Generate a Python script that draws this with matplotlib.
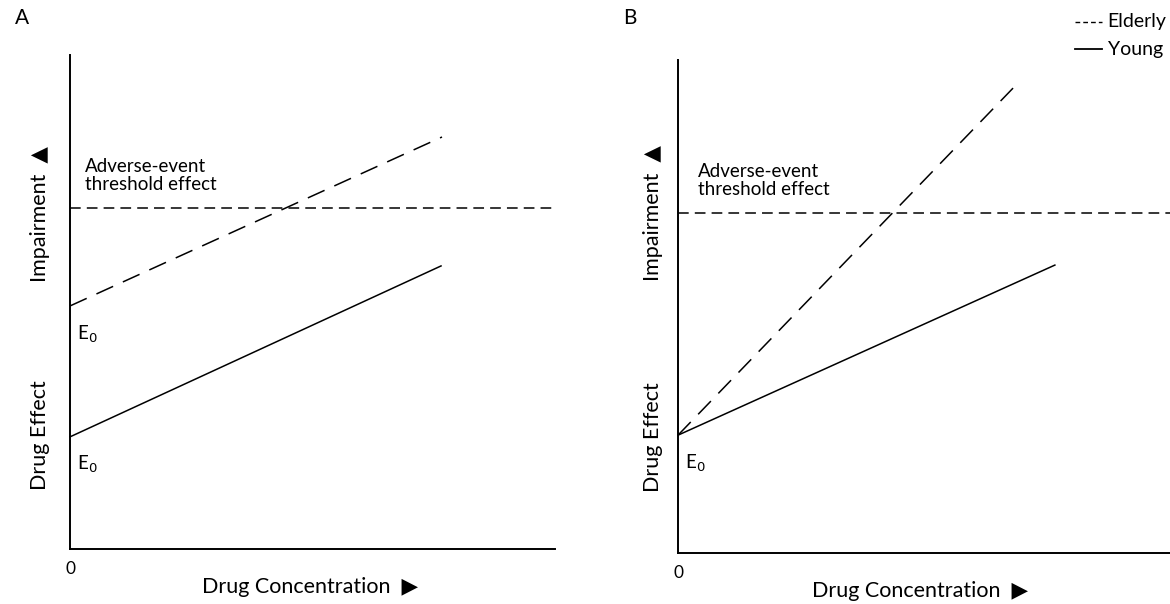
import matplotlib
matplotlib.use("Agg")
import matplotlib.pyplot as plt
from matplotlib.lines import Line2D

plt.rcParams['font.family'] = ['Lato', 'DejaVu Sans']

# line end points, in arbitrary units (x: 0-10, y: 0-10)
threshold = 6.9
a_elderly_x = [0.0, 7.67]
a_elderly_y = [4.92, 8.34]
a_young_x = [0.0, 7.65]
a_young_y = [2.27, 5.73]
b_elderly_x = [0.0, 6.81]
b_elderly_y = [2.39, 9.43]
b_young_x = [0.0, 7.66]
b_young_y = [2.39, 5.84]

W, H = 1170, 604
fig = plt.figure(figsize=(W / 100, H / 100), dpi=100)


def fx(x):
    return x / W


def fy(y):
    return 1 - y / H


def px_axes(left, right, bottom, top):
    return fig.add_axes([fx(left), fy(bottom), (right - left) / W, (bottom - top) / H])


def style(ax):
    ax.set_xlim(0, 10)
    ax.set_ylim(0, 10)
    for s in ['top', 'right']:
        ax.spines[s].set_visible(False)
    for s in ['left', 'bottom']:
        ax.spines[s].set_linewidth(1.4)
    ax.set_xticks([])
    ax.set_yticks([])
    ax.patch.set_alpha(0)


panels = [
    # name, axes box (px), elderly, young, text x offset, ylabel x, label y's, xlabel centre
    ('A', (70, 555, 549, 55), a_elderly_x, a_elderly_y, a_young_x, a_young_y, 0.31, -0.62, (2.31, 6.78), (310, 587)),
    ('B', (678, 1170, 553, 60), b_elderly_x, b_elderly_y, b_young_x, b_young_y, 0.40, -0.50, (2.35, 6.9), (920, 591)),
]

for name, box, ex, ey, yx, yy, tx, lx, (ly1, ly2), (cx, cy) in panels:
    ax = px_axes(*box)
    style(ax)
    ax.axhline(threshold, color='black', lw=1.1, ls=(0, (7, 4)))
    ax.plot(ex, ey, color='black', lw=1.1, ls=(0, (12, 7)), clip_on=False)
    ax.plot(yx, yy, color='black', lw=1.1, clip_on=False)
    ax.text(tx, threshold + 0.3, 'Adverse-event\nthreshold effect', fontsize=13.5,
            va='bottom', ha='left', linespacing=1.1)
    ax.text(0.15, ey[0] - 0.35, r'E$_0$', fontsize=13.5, va='top', ha='left')
    if name == 'A':
        ax.text(0.15, yy[0] - 0.35, r'E$_0$', fontsize=13.5, va='top', ha='left')
    ax.text(0, -0.25, '0', fontsize=12.5, ha='center', va='top')
    ax.text(lx, ly1, 'Drug Effect', fontsize=15.5, rotation=90, ha='center', va='center')
    ax.text(lx, ly2, 'Impairment  \u25b2', fontsize=15.5, rotation=90, ha='center', va='center')
    fig.text(fx(cx), fy(cy), 'Drug Concentration  \u25b6', fontsize=15.5, ha='center', va='center')
    fig.text(fx(box[0] - 55), fy(18), name, fontsize=15, ha='left', va='center')

# legend in the top right corner
fig.add_artist(Line2D([fx(1075), fx(1102)], [fy(22), fy(22)], color='black', lw=1.0, ls=(0, (3.4, 2.2))))
fig.add_artist(Line2D([fx(1075), fx(1102)], [fy(49), fy(49)], color='black', lw=1.3))
fig.text(fx(1107), fy(21), 'Elderly', fontsize=14, ha='left', va='center')
fig.text(fx(1108), fy(49), 'Young', fontsize=14, ha='left', va='center')

fig.savefig('out.png', dpi=100)
